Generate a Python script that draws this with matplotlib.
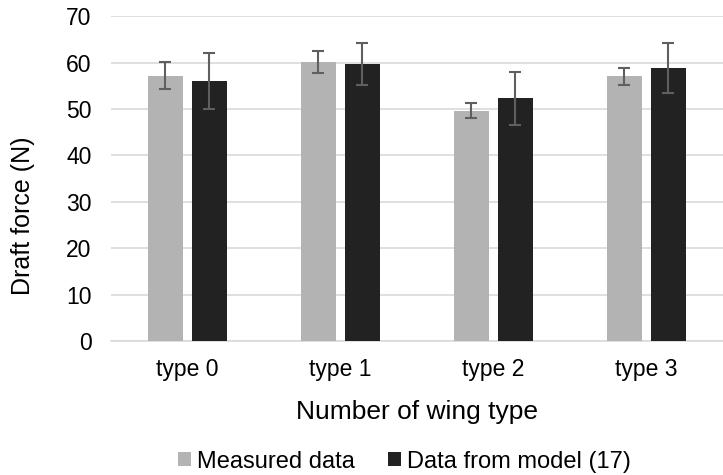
import numpy as np
import matplotlib.pyplot as plt

plt.rcParams["font.family"] = ["Liberation Sans", "DejaVu Sans"]

# 数据
categories = ["type 0", "type 1", "type 2", "type 3"]
measured = [57.2, 60.1, 49.6, 57.0]
measured_err = [2.9, 2.4, 1.65, 1.85]
model = [56.1, 59.7, 52.3, 58.8]
model_err = [6.0, 4.6, 5.65, 5.4]

fig = plt.figure(figsize=(7.23, 4.75), dpi=100)
ax = fig.add_axes([0.1535, 0.282, 0.846, 0.684])

x = np.arange(len(categories))
w = 0.23
off = 0.144
err_kw = dict(ecolor="#5f5f5f", elinewidth=1.5, capsize=4.3, capthick=1.5)

ax.bar(x - off, measured, w, yerr=measured_err, color="#b3b3b3",
       label="Measured data", error_kw=err_kw, zorder=3)
ax.bar(x + off, model, w, yerr=model_err, color="#222222",
       label="Data from model (17)", error_kw=err_kw, zorder=3)

ax.set_xlim(-0.5, len(categories) - 0.5)
ax.set_ylim(0, 70)
ax.set_yticks(range(0, 71, 10))
ax.set_xticks(x)
ax.set_xticklabels(categories)
ax.tick_params(axis="both", length=0, labelsize=16.5, colors="#000000")
ax.tick_params(axis="y", pad=14)
ax.tick_params(axis="x", pad=12)
ax.grid(axis="y", color="#d9d9d9", linewidth=1.2, zorder=0)

for s in ["top", "right", "left"]:
    ax.spines[s].set_visible(False)
ax.spines["bottom"].set_color("#d9d9d9")
ax.spines["bottom"].set_linewidth(1.2)

# y 轴标题在参考图里偏下
ax.set_ylabel("Draft force (N)", fontsize=18)
ax.set_xlabel("Number of wing type", fontsize=19, labelpad=14)
ax.yaxis.set_label_coords(-0.124, 0.385)

fig.legend(*ax.get_legend_handles_labels(), loc="center",
           bbox_to_anchor=(0.559, 0.028), ncol=2, frameon=False,
           fontsize=17, handlelength=0.55, handleheight=0.55,
           handletextpad=0.25, columnspacing=1.4, borderpad=0)

plt.savefig("out.png", dpi=100)
